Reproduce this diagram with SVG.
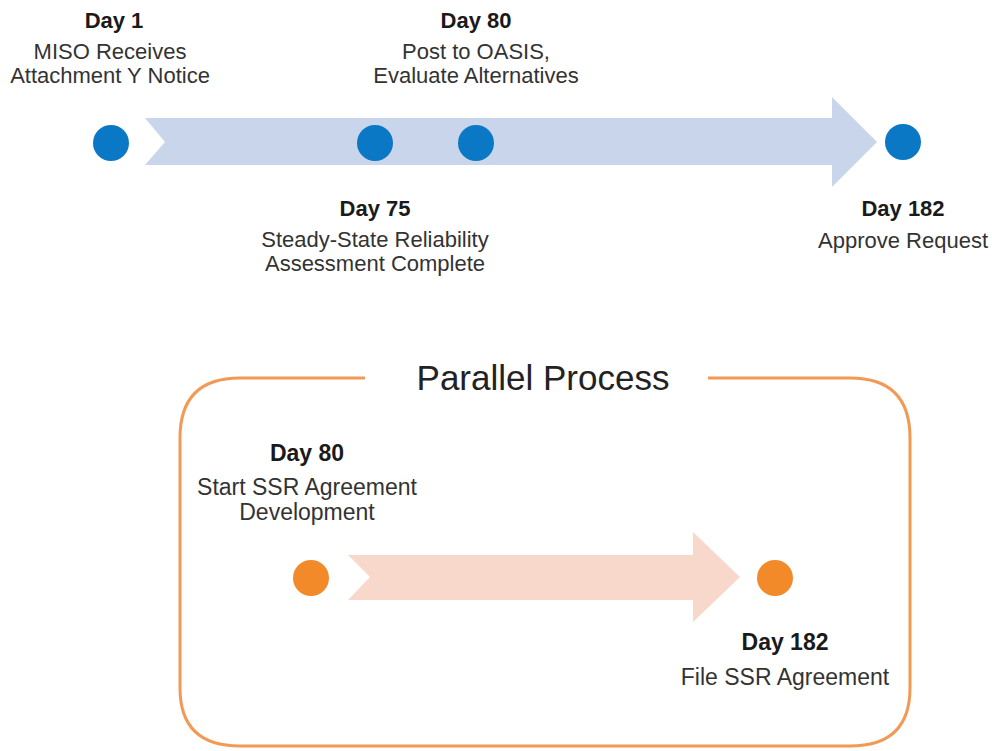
<svg xmlns="http://www.w3.org/2000/svg" width="992" height="751" viewBox="0 0 992 751">
<style>
.t{font-family:"Liberation Sans",Arial,sans-serif;font-size:22px;fill:#333333;text-anchor:middle}
.b{font-family:"Liberation Sans",Arial,sans-serif;font-size:22px;font-weight:bold;fill:#1a1a1a;text-anchor:middle}
.t2{font-family:"Liberation Sans",Arial,sans-serif;font-size:23px;fill:#333333;text-anchor:middle}
.b2{font-family:"Liberation Sans",Arial,sans-serif;font-size:23px;font-weight:bold;fill:#1a1a1a;text-anchor:middle}
.blue{fill:#0B78C6}
.org{fill:#F28A2A}
</style>
<rect width="992" height="751" fill="#ffffff"/>
<g id="connectors">
<polygon id="timeline-arrow" points="145,118 832,118 832,97 877,142 832,187 832,165 145,165 165,142" fill="#C8D5EA"/>
<polygon id="parallel-arrow" points="348,555 693,555 693,532 740,577 693,622 693,600 348,600 370,577" fill="#F9D8CC"/>
</g>
<g id="day1">
<circle class="blue" cx="111" cy="143" r="18"/>
<text class="b" x="114" y="28">Day 1</text>
<text class="t" x="110" y="59">MISO Receives</text>
<text class="t" x="110" y="83">Attachment Y Notice</text>
</g>
<g id="day75">
<circle class="blue" cx="375" cy="143" r="18"/>
<text class="b" x="375" y="216">Day 75</text>
<text class="t" x="375" y="247">Steady-State Reliability</text>
<text class="t" x="375" y="271">Assessment Complete</text>
</g>
<g id="day80">
<circle class="blue" cx="476" cy="143" r="18"/>
<text class="b" x="476" y="28">Day 80</text>
<text class="t" x="476" y="59">Post to OASIS,</text>
<text class="t" x="476" y="83">Evaluate Alternatives</text>
</g>
<g id="day182">
<circle class="blue" cx="903" cy="142" r="18"/>
<text class="b" x="903" y="216">Day 182</text>
<text class="t" x="903" y="248">Approve Request</text>
</g>
<g id="parallel-process">
<path d="M365,378 L240,378 Q180,378 180,438 L180,688 Q180,746 240,746 L850,746 Q910,746 910,688 L910,438 Q910,378 850,378 L708,378" fill="none" stroke="#F29A55" stroke-width="3"/>
<text x="543" y="390" font-family="'Liberation Sans',Arial,sans-serif" font-size="35" fill="#222222" text-anchor="middle">Parallel Process</text>
</g>
<g id="pday80">
<circle class="org" cx="311" cy="578" r="18"/>
<text class="b2" x="307" y="461">Day 80</text>
<text class="t2" x="307" y="495">Start SSR Agreement</text>
<text class="t2" x="307" y="520">Development</text>
</g>
<g id="pday182">
<circle class="org" cx="775" cy="578" r="18"/>
<text class="b2" x="785" y="650">Day 182</text>
<text class="t2" x="785" y="685">File SSR Agreement</text>
</g>
</svg>
